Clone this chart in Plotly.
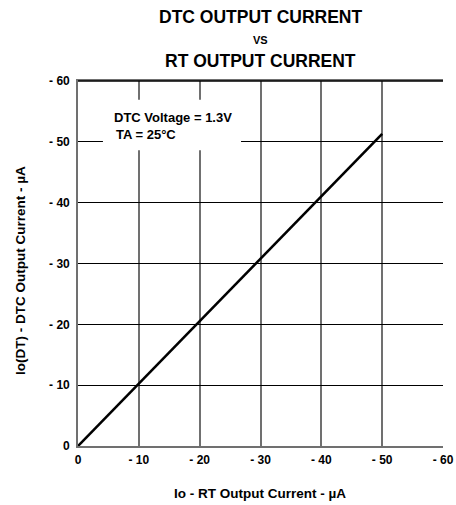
import plotly.graph_objects as go

rt_current = [0, -50]
dtc_current = [0, -51.3]
tick_vals = [0, -10, -20, -30, -40, -50, -60]
tick_text = ["0", "- 10", "- 20", "- 30", "- 40", "- 50", "- 60"]

FONT = "Liberation Sans, Arial, sans-serif"
W, H = 456, 505
L, R, T, B = 78, 13, 81, 59
PW, PH = W - L - R, H - T - B  # 365 x 365
X0, Y0, YT = L, H - B, T

def px(xp):
    return (xp - X0) / PW

def py(yp):
    return (Y0 - yp) / PH

fig = go.Figure()
fig.add_trace(go.Scatter(x=rt_current, y=dtc_current, mode="lines",
                         line=dict(color="black", width=2.6), showlegend=False))

tickfont = dict(size=12, family=FONT, weight="bold", color="black")
fig.update_layout(
    width=W, height=H,
    margin=dict(l=L, r=R, t=T, b=B),
    paper_bgcolor="white", plot_bgcolor="white",
    font=dict(family=FONT, color="black"),
    xaxis=dict(range=[0, -60], tickvals=tick_vals, ticktext=tick_text,
               showgrid=True, gridcolor="#707070", gridwidth=1.6,
               showline=True, linecolor="#707070", linewidth=1.6, mirror=True,
               zeroline=False, ticks="", tickfont=tickfont, ticklabelstandoff=2,
               automargin=False, fixedrange=True),
    yaxis=dict(range=[0, -60], tickvals=tick_vals, ticktext=tick_text,
               showgrid=True, gridcolor="black", gridwidth=1,
               showline=True, linecolor="#707070", linewidth=1.6, mirror=False,
               zeroline=False, ticks="", tickfont=tickfont, ticklabelstandoff=4,
               automargin=False, fixedrange=True),
)

fig.add_shape(type="line", xref="paper", yref="paper", x0=0, x1=1, y0=1, y1=1,
              line=dict(color="black", width=1.5))
fig.add_shape(type="rect", xref="x", yref="y", x0=-4.1, x1=-26.8, y0=-48.6, y1=-56.9,
              fillcolor="white", line=dict(width=0), layer="between")

ann_font = dict(family=FONT, size=13, color="black", weight="bold")
fig.add_annotation(x=px(112), y=py(117), xref="paper", yref="paper", text="DTC Voltage = 1.3V",
                   showarrow=False, xanchor="left", yanchor="middle", font=ann_font)
fig.add_annotation(x=px(114), y=py(135), xref="paper", yref="paper", text="TA = 25°C",
                   showarrow=False, xanchor="left", yanchor="middle", font=ann_font)

for txt, ypix, sz in [("DTC OUTPUT CURRENT", 17, 17.5), ("VS", 40, 11), ("RT OUTPUT CURRENT", 61, 17.5)]:
    fig.add_annotation(x=px(260), y=1 + (YT - ypix) / PH, xref="paper", yref="paper",
                       text=txt, showarrow=False, xanchor="center", yanchor="middle",
                       font=dict(family=FONT, size=sz, color="black", weight="bold"))

fig.add_annotation(x=px(259.5), y=py(493), xref="paper", yref="paper",
                   text="Io - RT Output Current - µA", showarrow=False,
                   xanchor="center", yanchor="middle",
                   font=dict(family=FONT, size=13.5, color="black", weight="bold"))
fig.add_annotation(x=px(20), y=py(271), xref="paper", yref="paper",
                   text="Io(DT) - DTC Output Current - µA", showarrow=False, textangle=-90,
                   xanchor="center", yanchor="middle",
                   font=dict(family=FONT, size=13.5, color="black", weight="bold"))

fig.write_html("out.html", config={"responsive": False, "displayModeBar": False},
               post_script="document.body.style.margin='0';document.body.style.overflow='hidden';"
                           "document.documentElement.style.overflow='hidden';")
